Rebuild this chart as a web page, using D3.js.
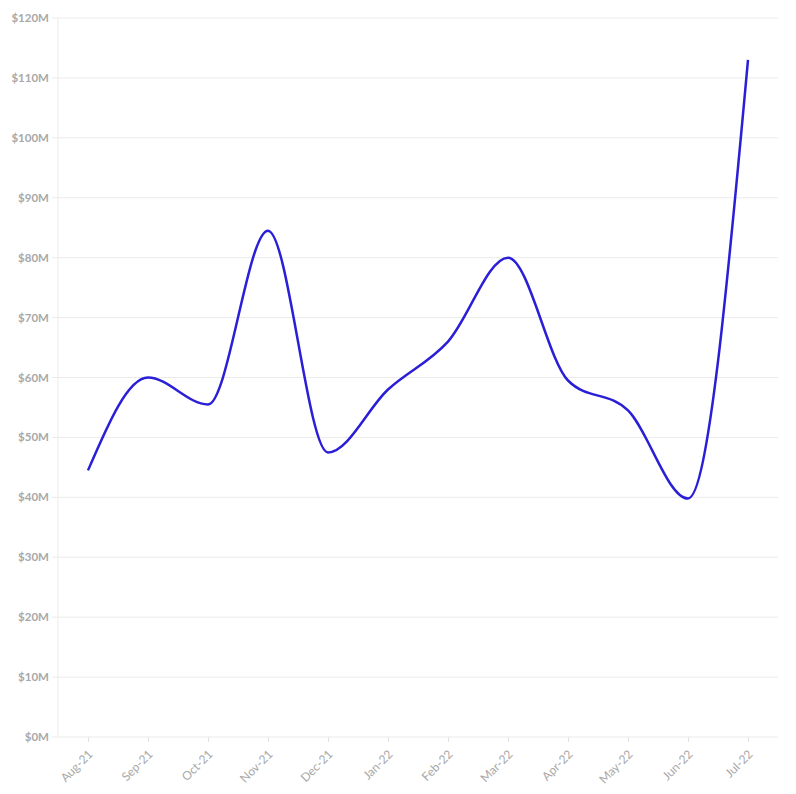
<!DOCTYPE html>
<html><head><meta charset="utf-8">
<script src="https://cdn.jsdelivr.net/npm/d3@7"></script>
<style>body{margin:0;background:#fff;} text{font-family:"Source Sans Pro",Lato,"Open Sans",sans-serif;}</style>
</head><body>
<svg id="c" width="796" height="794"></svg>
<script>
const months = ["Aug-21","Sep-21","Oct-21","Nov-21","Dec-21","Jan-22","Feb-22","Mar-22","Apr-22","May-22","Jun-22","Jul-22"];
const values = [44.5,60,55.5,84.5,47.5,58,66,80,59.5,54.5,39.8,113];
const yTicks = [0,10,20,30,40,50,60,70,80,90,100,110,120];

const svg = d3.select("#c");
const m = {l:58, r:18, t:18, b:57};
const W = 796, H = 794;
const x = d3.scalePoint().domain(months).range([m.l, W - m.r]).padding(0.5);
const y = d3.scaleLinear().domain([0,120]).range([H - m.b, m.t]);

// gridlines
svg.append("g").selectAll("line").data(yTicks).join("line")
  .attr("x1", m.l - 6).attr("x2", W - m.r)
  .attr("y1", d => y(d)).attr("y2", d => y(d))
  .attr("stroke", "#ebebeb").attr("stroke-width", 1);

// y axis line
svg.append("line").attr("x1", m.l).attr("x2", m.l).attr("y1", m.t).attr("y2", H - m.b)
  .attr("stroke", "#ebebeb");

// y labels
svg.append("g").selectAll("text").data(yTicks).join("text")
  .attr("x", m.l - 9).attr("y", d => y(d)).attr("dy", "0.35em")
  .attr("text-anchor", "end").attr("font-size", 11.5).attr("font-weight", "bold")
  .attr("fill", "#a8a8a8").text(d => "$" + d + "M");

// x axis
const xa = svg.append("g").attr("transform", `translate(0,${H - m.b})`)
  .call(d3.axisBottom(x).tickSize(5).tickSizeOuter(0));
xa.select(".domain").remove();
xa.selectAll(".tick line").attr("stroke", "#e3e3e3");
xa.selectAll(".tick text").attr("fill", "#a8a8a8").attr("font-size", 12)
  .attr("text-anchor", "end").attr("x", 0).attr("y", 0).attr("dx", 0).attr("dy", 0)
  .attr("transform", "translate(5,18) rotate(-45)")
  .style("font-family", '"Source Sans Pro",Lato,"Open Sans",sans-serif');

// line
const line = d3.line().x((d,i) => x(months[i])).y(d => y(d)).curve(d3.curveMonotoneX);
svg.append("path").datum(values).attr("d", line)
  .attr("fill", "none").attr("stroke", "#2a1fd6").attr("stroke-width", 2.5);
</script>
</body></html>
